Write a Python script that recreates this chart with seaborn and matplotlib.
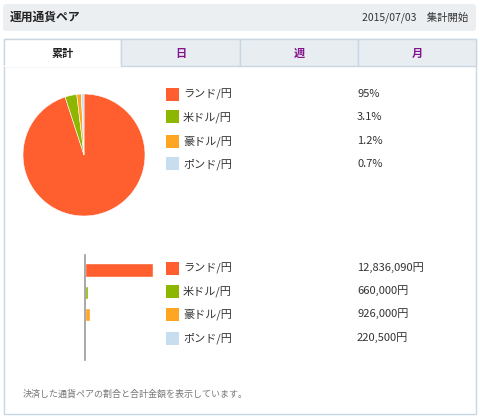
import matplotlib
matplotlib.use("Agg")
import matplotlib.pyplot as plt
import seaborn as sns
import pandas as pd
from matplotlib.patches import FancyBboxPatch, Rectangle

# data
pairs = ["ランド/円", "米ドル/円", "豪ドル/円", "ポンド/円"]
share_pct = [95, 3.1, 1.2, 0.7]
share_labels = ["95%", "3.1%", "1.2%", "0.7%"]
amounts = [12836090, 660000, 926000, 220500]
amount_labels = ["12,836,090円", "660,000円", "926,000円", "220,500円"]
colors = ["#ff5f2e", "#8db600", "#ffa524", "#c7ddf0"]

title = "運用通貨ペア"
start_label = "2015/07/03　集計開始"
tabs = ["累計", "日", "週", "月"]
note = "決済した通貨ペアの割合と合計金額を表示しています。"

W, H = 480, 419
sns.set_style("white")
plt.rcParams["font.family"] = ["Noto Sans CJK JP", "DejaVu Sans"]

fig = plt.figure(figsize=(W / 100, H / 100), dpi=100)


def fx(x):
    return x / W


def fy(y):
    return 1 - y / H


def add_axes_px(x0, y0, x1, y1):
    ax = fig.add_axes([fx(x0), fy(y1), (x1 - x0) / W, (y1 - y0) / H])
    ax.set_zorder(5)
    return ax


border = "#c9d7e3"
txt = "#333333"

# header bar
fig.patches.append(FancyBboxPatch((fx(3), fy(31)), fx(473), (31 - 4) / H,
                                  boxstyle="round,pad=0,rounding_size=0.006",
                                  transform=fig.transFigure, facecolor="#eceff2",
                                  edgecolor="none"))
fig.text(fx(10), fy(17), title, fontsize=8.5, fontweight="bold", color="#222222", va="center")
fig.text(fx(468), fy(17), start_label, fontsize=7.5, color=txt, va="center", ha="right")

# content box
fig.patches.append(Rectangle((fx(4), fy(414)), fx(472), (414 - 39) / H,
                             transform=fig.transFigure, facecolor="white",
                             edgecolor=border, linewidth=1))

# tabs
tab_edges = [4, 121, 240, 358, 476]
for i, t in enumerate(tabs):
    x0, x1 = tab_edges[i], tab_edges[i + 1]
    face = "white" if i == 0 else "#e8edf2"
    fig.patches.append(Rectangle((fx(x0), fy(66)), (x1 - x0) / W, (66 - 39) / H,
                                 transform=fig.transFigure, facecolor=face,
                                 edgecolor=border, linewidth=1))
    fig.text(fx((x0 + x1) / 2), fy(53), t, fontsize=8, fontweight="bold",
             color="#222222" if i == 0 else "#84138c", ha="center", va="center")
# hide the line under the active tab
fig.lines.append(plt.Line2D([fx(4.6), fx(120.4)], [fy(66), fy(66)],
                            transform=fig.transFigure, color="white", linewidth=1.5))

# pie
ax_pie = add_axes_px(23, 94, 145, 216)
ax_pie.pie(share_pct, colors=colors, startangle=90, counterclock=False,
           wedgeprops={"linewidth": 0.4, "edgecolor": "white"})
ax_pie.set_xlim(-1, 1)
ax_pie.set_ylim(-1, 1)
ax_pie.set_aspect("equal")
ax_pie.axis("off")

# legend rows
pie_rows = [94, 117, 141, 164]
bar_rows = [268, 291, 314, 338]
for rows, vals in [(pie_rows, share_labels), (bar_rows, amount_labels)]:
    for y, name, c, v in zip(rows, pairs, colors, vals):
        fig.patches.append(Rectangle((fx(166), fy(y + 6.5)), 13 / W, 13 / H,
                                     transform=fig.transFigure, facecolor=c,
                                     edgecolor="none"))
        fig.text(fx(183), fy(y), name, fontsize=8, color=txt, va="center")
        fig.text(fx(357), fy(y), v, fontsize=8, color=txt, va="center")

# bars
df = pd.DataFrame({"pair": pairs, "amount": amounts})
ax_bar = add_axes_px(85, 255, 160, 360)
sns.barplot(data=df, x="amount", y="pair", hue="pair", palette=colors,
            orient="h", width=0.6, legend=False, ax=ax_bar, saturation=1)
ax_bar.set_xlim(0, 12836090 * 75 / 68)
ax_bar.set_ylim(4.03, -0.67)
ax_bar.set_xticks([])
ax_bar.set_yticks([])
ax_bar.set_xlabel("")
ax_bar.set_ylabel("")
for s in ["top", "right", "bottom"]:
    ax_bar.spines[s].set_visible(False)
ax_bar.spines["left"].set_color("#999999")
ax_bar.spines["left"].set_linewidth(1.2)
ax_bar.patch.set_alpha(0)

fig.text(fx(23), fy(394), note, fontsize=6.5, color="#777777", va="center")

fig.savefig("out.png", dpi=100)
